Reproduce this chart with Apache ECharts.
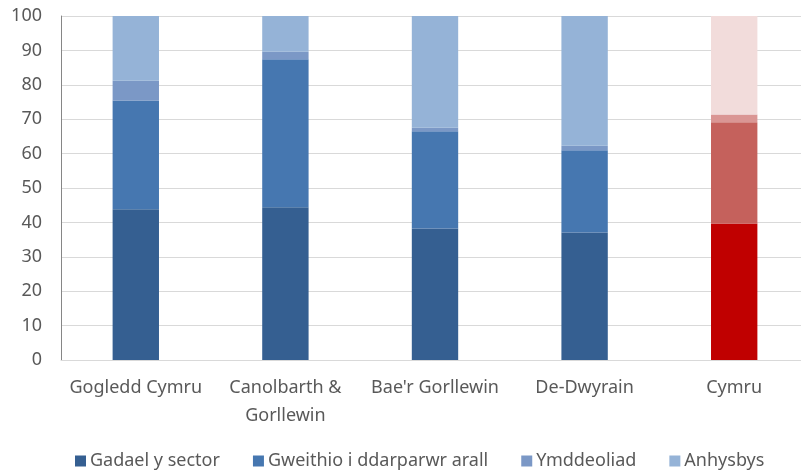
<!DOCTYPE html>
<html>
<head>
<meta charset="utf-8">
<script src="https://cdn.jsdelivr.net/npm/echarts@6/dist/echarts.min.js"></script>
<style>
  html, body { margin: 0; padding: 0; background: #fff; }
  #chart { width: 801px; height: 472px; }
</style>
</head>
<body>
<div id="chart"></div>
<script>
const categories = ['Gogledd Cymru', 'Canolbarth &\nGorllewin', "Bae'r Gorllewin", 'De-Dwyrain', 'Cymru']
const seriesNames = ['Gadael y sector', 'Gweithio i ddarparwr arall', 'Ymddeoliad', 'Anhysbys']
const gadael = [43.8, 44.4, 38.2, 37.1, 39.7]
const gweithio = [31.6, 43.0, 28.3, 23.9, 29.4]
const ymddeoliad = [5.8, 2.2, 1.0, 1.3, 2.3]
const anhysbys = [18.8, 10.4, 32.5, 37.7, 28.6]

// blue for the regions, red for Wales as a whole
const blues = ['#355f91', '#4677b0', '#7b98c6', '#95b3d7']
const reds = ['#c00000', '#c5615c', '#da9694', '#f2dcdb']

const allValues = [gadael, gweithio, ymddeoliad, anhysbys]

const font = 'Noto Sans'
const textColor = '#595959'

const chart = echarts.init(document.getElementById('chart'))

const series = allValues.map(function (vals, s) {
  return {
    name: seriesNames[s],
    type: 'bar',
    stack: 'total',
    barWidth: '31%',
    itemStyle: { color: blues[s] },
    data: vals.map(function (v, i) {
      return i === categories.length - 1
        ? { value: v, itemStyle: { color: reds[s] } }
        : v
    })
  }
})

chart.setOption({
  animation: false,
  textStyle: { fontFamily: font },
  grid: {
    left: 61,
    top: 16,
    right: -8,
    bottom: 112,
    containLabel: false,
    outerBoundsMode: 'none'
  },
  legend: {
    top: 452,
    left: 75,
    padding: 0,
    itemWidth: 11,
    itemHeight: 11,
    itemGap: 33,
    icon: 'rect',
    textStyle: { color: textColor, fontSize: 18, fontFamily: font, padding: [0, 0, 0, -1] },
    data: seriesNames
  },
  xAxis: {
    type: 'category',
    data: categories,
    axisLine: { show: true, lineStyle: { color: '#d9d9d9' } },
    axisTick: { show: false },
    axisLabel: {
      color: textColor,
      fontSize: 18,
      margin: 14,
      lineHeight: 28,
      interval: 0
    }
  },
  yAxis: {
    type: 'value',
    min: 0,
    max: 100,
    interval: 10,
    axisLine: { show: true, lineStyle: { color: '#868686', width: 1 } },
    axisTick: { show: false },
    splitLine: { lineStyle: { color: '#d9d9d9' } },
    axisLabel: { color: textColor, fontSize: 18, margin: 19 }
  },
  series: series
})
</script>
</body>
</html>
